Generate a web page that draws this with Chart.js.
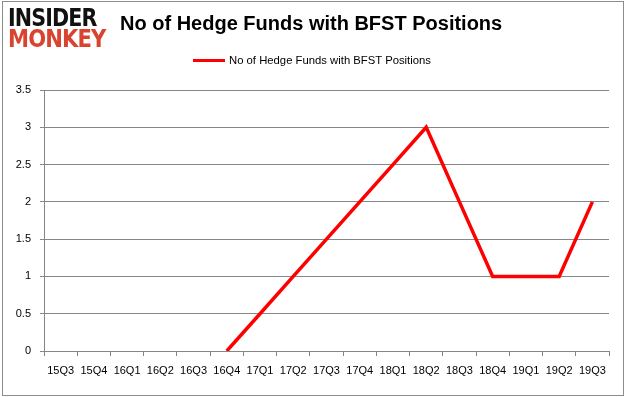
<!DOCTYPE html>
<html>
<head>
<meta charset="utf-8">
<script src="https://cdn.jsdelivr.net/npm/chart.js@4"></script>
<style>
  html, body { margin: 0; padding: 0; background: #fff; }
  #wrap { position: relative; width: 626px; height: 397px; overflow: hidden; }
  #frame { position: absolute; left: 2px; top: 1px; width: 620px; height: 393px; border: 1px solid #8c8c8c; pointer-events: none; }
  #logo { position: absolute; left: 8px; top: 8px; font-family: "DejaVu Sans", sans-serif; font-weight: 900; line-height: 21px; }
  #logo .a { color: #111; font-size: 24px; letter-spacing: -1px; transform: scaleX(0.86); transform-origin: left; }
  #logo .b { color: #d9432f; font-size: 24px; letter-spacing: -1px; transform: scaleX(0.88); transform-origin: left; }
  #logo div { white-space: nowrap; }
  #title { position: absolute; left: 120px; top: 12px; font-family: "Liberation Sans", Arial, sans-serif; font-weight: bold; font-size: 20px; color: #000; white-space: nowrap; }
  #legend { position: absolute; left: 193px; top: 54px; font-family: "Liberation Sans", Arial, sans-serif; font-size: 11.3px; color: #000; white-space: nowrap; }
  #legend span.sw { display: inline-block; width: 32px; height: 3px; background: #ff0000; vertical-align: middle; margin-right: 4px; margin-top: -2px; }
  canvas { position: absolute; left: 0; top: 0; }
</style>
</head>
<body>
<div id="wrap">
  <canvas id="c" width="626" height="397"></canvas>
  <div id="logo"><div class="a">INSIDER</div><div class="b">MONKEY</div></div>
  <div id="title">No of Hedge Funds with BFST Positions</div>
  <div id="legend"><span class="sw"></span>No of Hedge Funds with BFST Positions</div>
  <div id="frame"></div>
</div>
<script>
// quarters on the x axis
const quarters = ['15Q3','15Q4','16Q1','16Q2','16Q3','16Q4','17Q1','17Q2','17Q3','17Q4','18Q1','18Q2','18Q3','18Q4','19Q1','19Q2','19Q3'];
// number of hedge funds holding BFST (no data before 16Q4)
const funds = [null, null, null, null, null, 0, 0.5, 1, 1.5, 2, 2.5, 3, 2, 1, 1, 1, 2];
const yTicks = [0, 0.5, 1, 1.5, 2, 2.5, 3, 3.5];

const gridColor = '#868686';
const tickFont = { family: 'Liberation Sans, Arial, sans-serif', size: 11 };

new Chart(document.getElementById('c'), {
  type: 'line',
  data: {
    labels: quarters,
    datasets: [{
      label: 'No of Hedge Funds with BFST Positions',
      data: funds,
      borderColor: '#ff0000',
      backgroundColor: '#ff0000',
      borderWidth: 3.5,
      pointRadius: 0,
      tension: 0,
      spanGaps: false
    }]
  },
  options: {
    responsive: false,
    animation: false,
    layout: { padding: { top: 90, right: 17, bottom: 0, left: 0 } },
    plugins: {
      legend: { display: false },
      tooltip: { enabled: false }
    },
    scales: {
      x: {
        offset: true,
        grid: { offset: true, drawOnChartArea: false, color: gridColor, tickLength: 5 },
        border: { color: gridColor },
        ticks: { color: '#000', font: tickFont, padding: 8, maxRotation: 0, autoSkip: false },
        afterFit: s => { s.height = 46; }
      },
      y: {
        min: 0,
        max: 3.5,
        afterBuildTicks: s => { s.ticks = yTicks.map(v => ({ value: v })); },
        grid: { color: gridColor, tickLength: 4 },
        border: { color: gridColor },
        ticks: { color: '#000', font: tickFont, padding: 9, callback: v => String(v) },
        afterFit: s => { s.width = 44; }
      }
    }
  }
});
</script>
</body>
</html>
